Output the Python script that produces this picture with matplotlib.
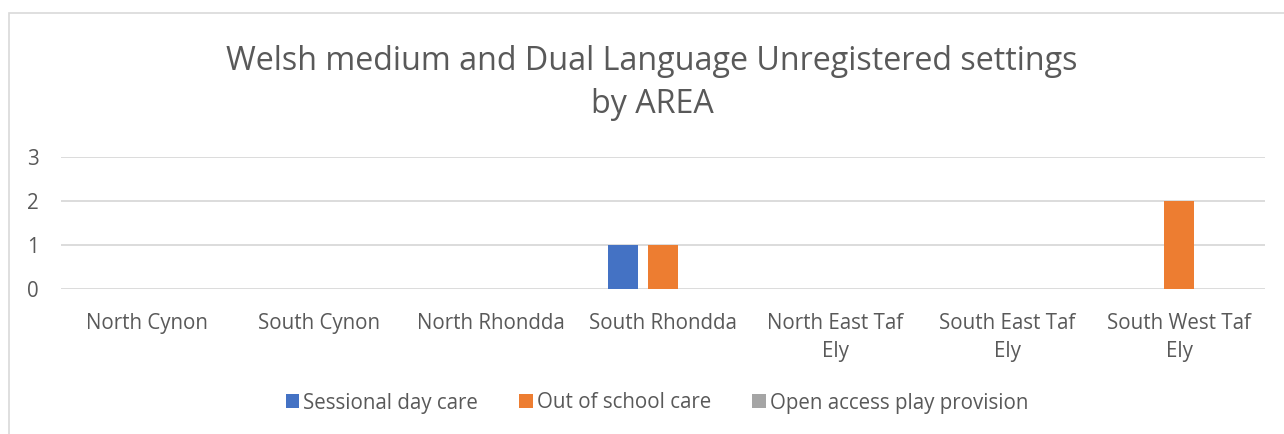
import numpy as np
from matplotlib import pyplot as plt
from matplotlib.patches import Rectangle

areas = ['North Cynon', 'South Cynon', 'North Rhondda', 'South Rhondda',
         'North East Taf\nEly', 'South East Taf\nEly', 'South West Taf\nEly']
sessional = [0, 0, 0, 1, 0, 0, 0]
out_of_school = [0, 0, 0, 1, 0, 0, 2]
open_access = [0, 0, 0, 0, 0, 0, 0]

series = ['Sessional day care', 'Out of school care', 'Open access play provision']
colors = ['#4472C4', '#ED7D31', '#A5A5A5']
text_col = '#595959'

plt.rcParams['font.family'] = ['Open Sans', 'DejaVu Sans']

fig = plt.figure(figsize=(12.84, 4.34), dpi=100)
ax = fig.add_axes([61 / 1284, 1 - 289 / 434, (1265 - 61) / 1284, (289 - 157) / 434])

x = np.arange(len(areas))
w = 30 / 172
step = 40 / 172
for i, (vals, name) in enumerate(zip([sessional, out_of_school, open_access], series)):
    ax.bar(x + (i - 1) * step, vals, width=w, color=colors[i], label=name, zorder=3)

ax.set_xlim(-0.5, len(areas) - 0.5)
ax.set_ylim(0, 3)
ax.set_yticks([0, 1, 2, 3])
ax.set_xticks(x)
ax.set_xticklabels(areas, linespacing=1.45)
ax.tick_params(axis='both', length=0, labelsize=14.8, colors=text_col)
ax.tick_params(axis='x', pad=17)
ax.tick_params(axis='y', pad=16)
ax.grid(axis='y', color='#d9d9d9', linewidth=1.3, zorder=0)
for s in ax.spines.values():
    s.set_visible(False)

fig.text(652 / 1284, 1 - 83 / 434, 'Welsh medium and Dual Language Unregistered settings\nby AREA',
         ha='center', va='center', fontsize=23.2, color=text_col, linespacing=1.4)

leg = fig.legend(loc='center', bbox_to_anchor=(657 / 1284, 1 - 403 / 434), ncol=3,
                 frameon=False, fontsize=14.8, handlelength=0.65, handleheight=0.65,
                 handletextpad=0.2, columnspacing=2.0)
for t in leg.get_texts():
    t.set_color(text_col)

fig.patches.append(Rectangle((9 / 1284, -0.1), 1.2, 1 - 13 / 434 + 0.1,
                             transform=fig.transFigure, fill=False,
                             edgecolor='#d9d9d9', linewidth=1.2))

fig.savefig('out.png', dpi=100)
